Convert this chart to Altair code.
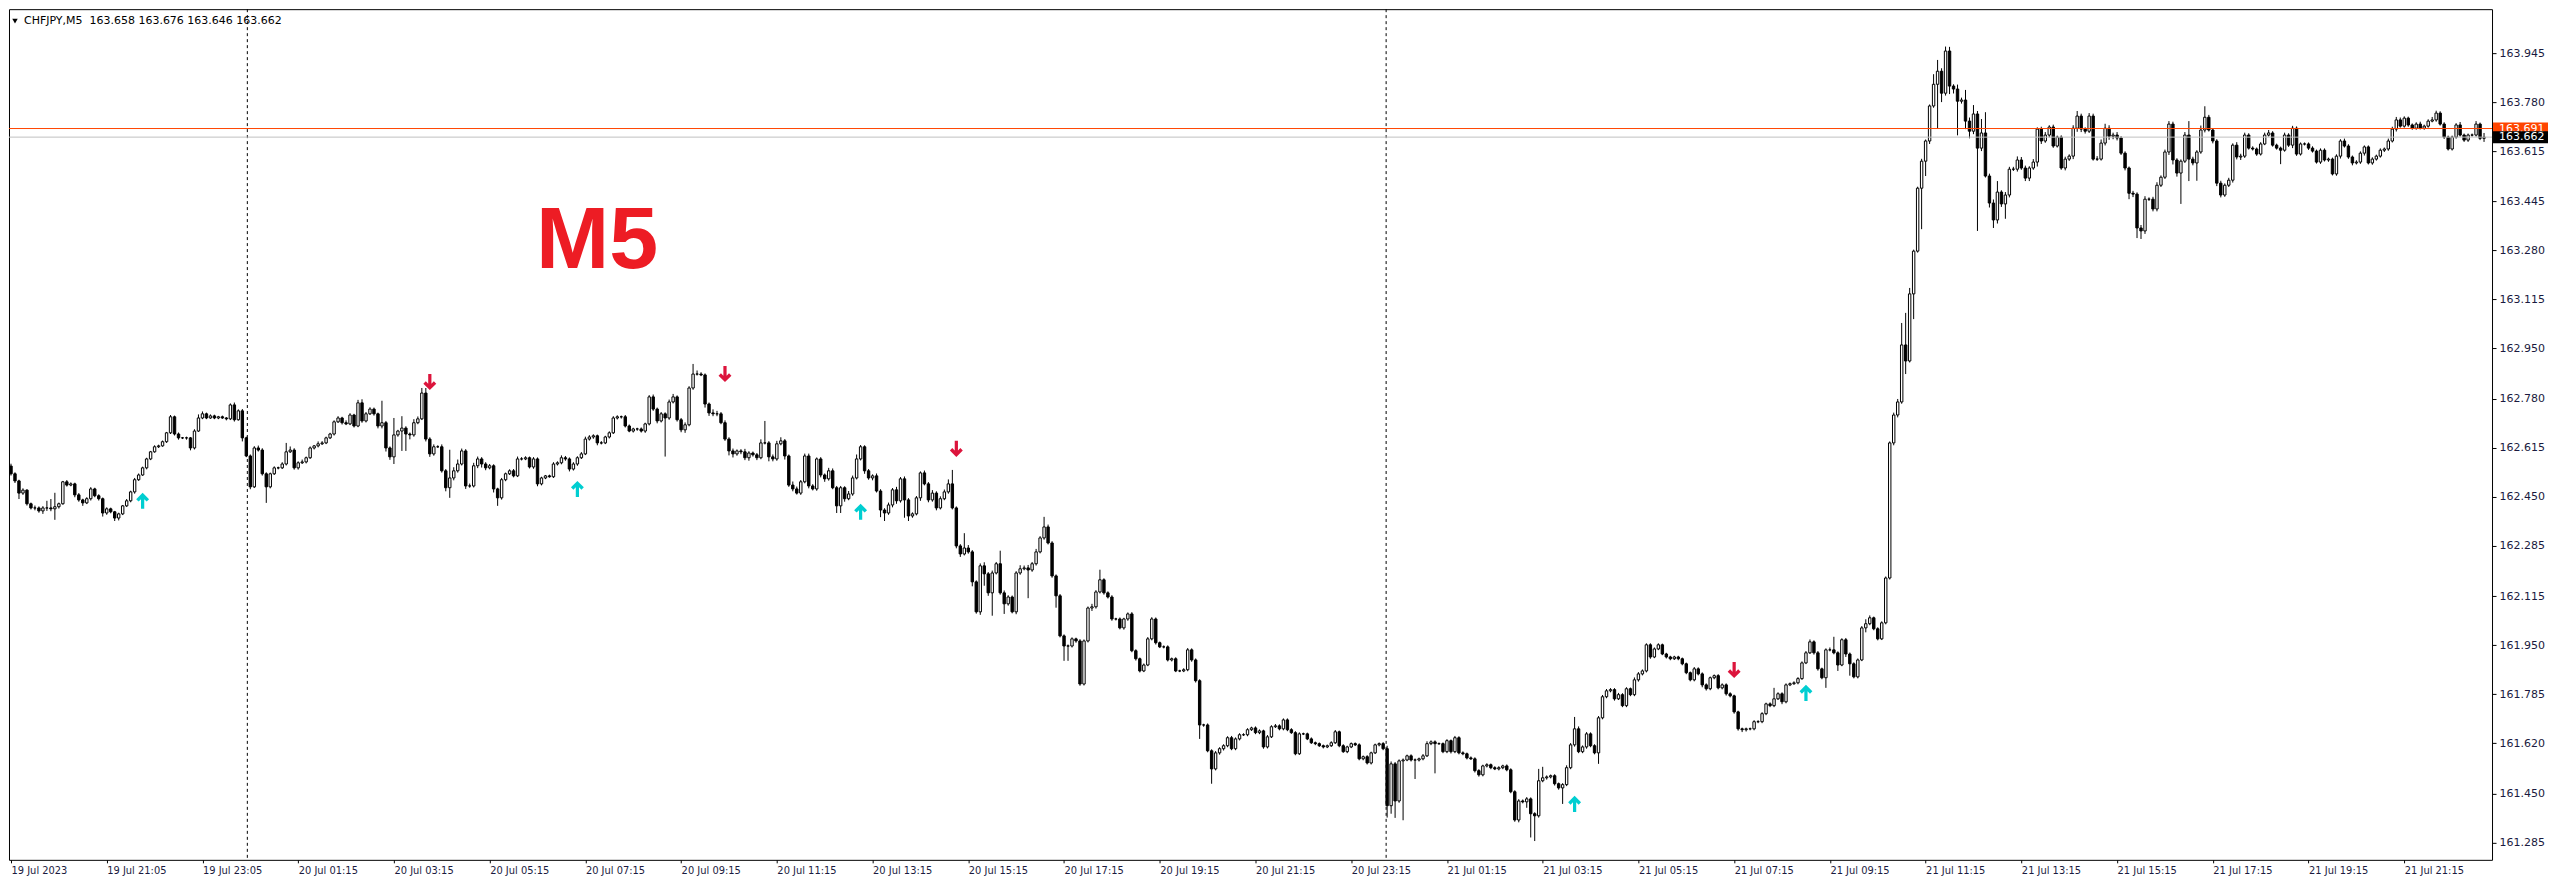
import altair as alt
import pandas as pd

symbol = "CHFJPY,M5"
first_open = 162.554

closes = [
    162.528, 162.504, 162.463, 162.473, 162.427, 162.413, 162.413, 162.403, 162.413, 162.413, 162.410, 162.417, 162.427, 162.501, 162.490, 162.494, 162.457, 162.440, 162.430, 162.444,
    162.477, 162.454, 162.444, 162.396, 162.410, 162.400, 162.379, 162.393, 162.420, 162.437, 162.467, 162.508, 162.524, 162.548, 162.578, 162.602, 162.619, 162.622, 162.636, 162.666,
    162.720, 162.662, 162.649, 162.649, 162.649, 162.615, 162.672, 162.716, 162.730, 162.716, 162.723, 162.716, 162.720, 162.716, 162.713, 162.760, 162.710, 162.740, 162.649, 162.588,
    162.484, 162.615, 162.608, 162.528, 162.484, 162.528, 162.548, 162.548, 162.561, 162.602, 162.608, 162.548, 162.565, 162.568, 162.582, 162.615, 162.622, 162.629, 162.632, 162.649,
    162.662, 162.703, 162.716, 162.700, 162.696, 162.726, 162.689, 162.767, 162.706, 162.730, 162.746, 162.730, 162.689, 162.700, 162.615, 162.585, 162.659, 162.672, 162.682, 162.662,
    162.659, 162.700, 162.713, 162.800, 162.645, 162.595, 162.619, 162.619, 162.538, 162.481, 162.514, 162.538, 162.561, 162.605, 162.487, 162.487, 162.555, 162.578, 162.561, 162.548,
    162.555, 162.477, 162.447, 162.508, 162.528, 162.538, 162.521, 162.578, 162.578, 162.582, 162.551, 162.578, 162.494, 162.514, 162.521, 162.518, 162.561, 162.565, 162.582, 162.578,
    162.544, 162.561, 162.582, 162.595, 162.645, 162.652, 162.656, 162.632, 162.632, 162.652, 162.666, 162.716, 162.720, 162.720, 162.689, 162.672, 162.679, 162.679, 162.672, 162.696,
    162.787, 162.746, 162.706, 162.730, 162.716, 162.770, 162.787, 162.710, 162.676, 162.693, 162.817, 162.864, 162.864, 162.861, 162.763, 162.733, 162.730, 162.730, 162.700, 162.645,
    162.605, 162.595, 162.605, 162.602, 162.582, 162.598, 162.592, 162.582, 162.632, 162.632, 162.585, 162.578, 162.629, 162.639, 162.588, 162.490, 162.477, 162.463, 162.501, 162.588,
    162.487, 162.477, 162.578, 162.524, 162.511, 162.538, 162.481, 162.420, 162.481, 162.444, 162.460, 162.514, 162.578, 162.619, 162.538, 162.514, 162.521, 162.470, 162.406, 162.396,
    162.423, 162.474, 162.437, 162.511, 162.440, 162.386, 162.393, 162.447, 162.531, 162.494, 162.440, 162.463, 162.413, 162.444, 162.467, 162.494, 162.413, 162.285, 162.258, 162.278,
    162.265, 162.164, 162.063, 162.218, 162.191, 162.127, 162.194, 162.225, 162.127, 162.090, 162.113, 162.063, 162.194, 162.208, 162.211, 162.204, 162.225, 162.265, 162.312, 162.349,
    162.295, 162.184, 162.117, 161.982, 161.948, 161.948, 161.972, 161.965, 161.820, 161.965, 162.076, 162.080, 162.130, 162.171, 162.127, 162.113, 162.039, 162.039, 162.009, 162.039,
    162.056, 161.932, 161.905, 161.864, 161.884, 161.972, 162.039, 161.959, 161.945, 161.945, 161.901, 161.905, 161.864, 161.864, 161.868, 161.935, 161.901, 161.831, 161.682, 161.682,
    161.595, 161.534, 161.588, 161.602, 161.612, 161.639, 161.602, 161.635, 161.649, 161.649, 161.666, 161.672, 161.656, 161.662, 161.608, 161.642, 161.676, 161.679, 161.669, 161.699,
    161.666, 161.656, 161.585, 161.652, 161.652, 161.635, 161.622, 161.619, 161.612, 161.608, 161.612, 161.622, 161.659, 161.612, 161.592, 161.608, 161.619, 161.615, 161.568, 161.575,
    161.554, 161.588, 161.615, 161.619, 161.602, 161.410, 161.551, 161.426, 161.561, 161.564, 161.578, 161.564, 161.564, 161.568, 161.578, 161.619, 161.625, 161.619, 161.619, 161.592,
    161.629, 161.592, 161.639, 161.588, 161.585, 161.571, 161.568, 161.528, 161.514, 161.544, 161.548, 161.538, 161.534, 161.538, 161.544, 161.531, 161.457, 161.362, 161.426, 161.423,
    161.433, 161.383, 161.376, 161.494, 161.504, 161.507, 161.511, 161.484, 161.470, 161.481, 161.538, 161.615, 161.669, 161.592, 161.608, 161.652, 161.612, 161.588, 161.706, 161.777,
    161.797, 161.801, 161.770, 161.784, 161.747, 161.804, 161.784, 161.834, 161.854, 161.864, 161.952, 161.911, 161.938, 161.952, 161.921, 161.911, 161.905, 161.911, 161.905, 161.888,
    161.858, 161.834, 161.871, 161.854, 161.817, 161.804, 161.841, 161.848, 161.807, 161.817, 161.787, 161.780, 161.726, 161.669, 161.666, 161.669, 161.669, 161.693, 161.693, 161.720,
    161.753, 161.747, 161.770, 161.787, 161.760, 161.817, 161.821, 161.824, 161.838, 161.891, 161.925, 161.962, 161.925, 161.871, 161.841, 161.935, 161.935, 161.925, 161.884, 161.969,
    161.921, 161.888, 161.844, 161.901, 162.009, 162.023, 162.043, 162.006, 161.972, 162.026, 162.177, 162.632, 162.726, 162.770, 162.962, 162.908, 163.134, 163.278, 163.490, 163.581,
    163.649, 163.767, 163.840, 163.884, 163.810, 163.952, 163.834, 163.824, 163.783, 163.787, 163.716, 163.682, 163.740, 163.625, 163.676, 163.531, 163.440, 163.383, 163.477, 163.437,
    163.467, 163.554, 163.554, 163.585, 163.558, 163.524, 163.558, 163.578, 163.689, 163.649, 163.669, 163.696, 163.632, 163.662, 163.558, 163.588, 163.598, 163.692, 163.733, 163.689,
    163.682, 163.733, 163.588, 163.588, 163.642, 163.692, 163.665, 163.669, 163.659, 163.608, 163.558, 163.473, 163.470, 163.356, 163.346, 163.453, 163.453, 163.420, 163.500, 163.527,
    163.612, 163.706, 163.585, 163.541, 163.581, 163.669, 163.588, 163.575, 163.612, 163.686, 163.729, 163.686, 163.649, 163.507, 163.467, 163.500, 163.517, 163.635, 163.595, 163.598,
    163.669, 163.625, 163.622, 163.605, 163.639, 163.669, 163.676, 163.635, 163.625, 163.618, 163.669, 163.635, 163.692, 163.605, 163.639, 163.639, 163.625, 163.615, 163.578, 163.618,
    163.585, 163.588, 163.538, 163.598, 163.649, 163.632, 163.595, 163.575, 163.578, 163.608, 163.629, 163.575, 163.588, 163.598, 163.618, 163.622, 163.649, 163.689, 163.720, 163.699,
    163.726, 163.703, 163.692, 163.706, 163.692, 163.699, 163.716, 163.720, 163.743, 163.706, 163.662, 163.622, 163.662, 163.703, 163.669, 163.652, 163.669, 163.669, 163.706, 163.658,
    163.662,
]

# upper / lower wick lengths beyond the body, in points (0.001)
up_wick = [
    8,5,4,6,3,4,8,5,6,24,30,47,4,3,6,5,4,6,4,5,
    6,4,5,4,5,4,3,4,3,6,4,6,5,4,4,3,5,4,4,3,
    6,4,5,3,4,3,6,12,8,4,5,4,3,4,3,5,8,5,6,4,
    5,6,8,6,5,4,5,4,6,30,12,6,5,8,4,5,3,8,6,4,
    4,5,6,4,8,6,4,10,12,6,6,5,4,74,6,5,57,4,40,6,
    5,12,8,17,17,6,8,5,8,6,95,12,15,8,6,8,10,8,6,6,
    6,5,4,6,4,5,6,8,6,5,4,6,5,4,3,4,6,5,8,6,
    5,6,5,6,8,6,5,4,6,4,5,6,5,4,6,5,4,4,5,4,
    6,8,5,6,5,8,10,5,6,8,6,34,12,6,5,5,12,10,6,8,
    6,8,5,6,10,6,5,6,12,74,6,8,10,12,6,5,12,8,6,8,
    8,6,5,6,5,10,8,6,6,5,10,8,15,6,5,6,5,8,6,6,
    8,6,10,6,8,6,5,6,5,8,6,10,6,8,8,15,47,5,6,50,
    10,6,5,8,12,6,8,6,44,8,6,5,6,12,8,10,6,10,6,34,
    8,6,5,6,5,5,5,4,6,5,5,10,6,34,5,5,6,4,5,4,
    5,6,5,4,5,6,6,5,4,5,5,4,5,4,5,6,5,5,5,4,
    5,5,6,5,5,5,6,5,5,5,5,4,5,5,4,6,5,6,5,5,
    5,5,5,5,4,4,5,4,4,4,4,5,6,4,5,4,4,4,5,4,
    5,4,4,4,5,10,8,6,5,5,4,5,5,4,6,8,5,5,4,4,
    5,4,6,5,5,4,5,5,5,4,5,4,5,5,4,5,5,5,6,5,
    6,5,5,40,37,5,4,5,4,5,8,6,40,8,5,6,5,5,6,6,
    6,5,5,6,5,5,4,8,6,5,5,5,5,5,4,4,4,4,4,4,
    4,4,6,5,5,5,4,4,5,5,5,5,4,4,4,4,4,5,5,5,
    4,5,37,5,5,5,4,5,5,5,6,8,5,6,4,5,8,44,5,5,
    6,5,5,5,6,15,8,4,5,5,5,5,8,10,74,108,20,5,5,8,
    5,5,34,38,10,15,14,6,15,8,34,12,30,10,47,70,8,12,37,6,
    10,8,8,12,10,8,6,10,6,8,10,6,8,5,6,8,6,10,17,8,
    6,10,8,10,12,15,10,8,10,6,6,5,8,6,10,10,6,8,10,6,
    8,10,8,6,6,10,47,8,6,15,37,8,5,6,8,6,8,6,10,8,
    8,6,6,5,6,8,10,6,5,5,8,6,8,6,5,5,5,6,5,6,
    6,5,5,6,6,8,6,5,6,6,5,5,6,5,6,5,8,8,10,8,
    6,5,5,6,8,5,6,10,8,6,6,5,5,6,10,5,5,5,10,5,
    14,
]
dn_wick = [
    6,7,20,6,6,5,8,6,10,10,8,37,6,3,5,4,8,6,10,4,
    6,5,6,12,6,5,10,8,4,4,5,6,4,3,5,4,3,4,3,4,
    4,5,6,4,6,8,5,3,4,4,3,4,4,3,5,4,6,3,12,4,
    8,4,5,6,54,5,4,5,4,5,4,6,6,4,5,4,5,5,4,4,
    4,5,4,6,4,4,5,4,6,5,4,6,8,8,12,10,24,6,67,57,
    15,6,5,4,8,10,6,4,6,12,34,8,6,5,10,6,5,8,12,8,
    5,12,27,6,5,4,5,4,5,4,5,6,8,5,4,3,4,5,5,6,
    8,5,6,4,4,5,6,8,5,4,5,4,5,6,5,4,5,6,5,6,
    5,6,8,5,130,6,5,6,8,10,5,6,5,4,12,10,8,8,5,6,
    15,12,6,8,8,10,6,8,5,5,15,8,6,5,12,6,8,5,6,5,
    8,5,6,8,10,6,5,24,24,10,5,6,5,5,10,6,8,5,24,27,
    6,8,10,6,60,17,6,5,10,5,8,6,8,5,5,6,5,8,10,5,
    6,15,6,10,40,10,77,5,6,34,6,5,8,6,5,95,6,6,5,6,
    5,6,40,5,50,50,5,6,6,5,5,10,6,5,6,5,6,5,5,6,
    6,5,6,5,4,4,5,6,4,5,5,5,4,4,4,5,6,6,47,6,
    5,50,5,6,6,5,5,5,5,4,5,4,5,5,6,5,4,4,5,5,
    5,4,5,4,4,4,4,5,4,5,4,4,4,5,4,5,4,4,5,5,
    5,5,4,5,5,40,27,57,6,200,4,5,64,5,5,4,5,100,4,5,
    5,6,5,5,5,5,4,6,6,5,5,5,4,5,5,5,5,6,8,5,
    20,80,85,6,5,6,5,6,6,54,5,5,6,5,5,6,5,5,37,5,
    5,5,6,4,5,5,5,5,6,5,5,6,4,4,4,5,5,4,5,5,
    5,5,5,5,8,6,5,5,5,5,6,5,6,6,8,6,5,5,5,5,
    5,5,5,4,8,5,4,4,5,4,4,4,6,6,5,34,5,5,20,4,
    10,40,5,5,4,15,5,5,5,4,5,5,8,8,6,44,5,85,5,138,
    50,10,6,150,30,8,27,15,115,8,27,24,10,279,10,5,15,27,12,10,
    50,8,6,8,6,10,10,6,15,10,6,8,6,5,6,8,6,10,12,10,
    8,6,5,6,5,8,12,10,8,6,8,20,10,34,27,10,6,8,8,6,
    6,10,15,12,104,6,74,8,60,6,8,5,8,10,8,6,6,8,8,10,
    6,5,5,6,5,4,5,5,5,47,5,6,10,6,5,5,6,5,5,6,
    5,6,5,6,8,5,6,8,5,6,8,5,6,5,5,6,6,5,8,5,
    5,6,5,5,4,5,5,4,6,5,6,5,5,5,5,6,6,5,5,6,
    12,
]

time_labels = [
    "19 Jul 2023", "19 Jul 21:05", "19 Jul 23:05", "20 Jul 01:15", "20 Jul 03:15",
    "20 Jul 05:15", "20 Jul 07:15", "20 Jul 09:15", "20 Jul 11:15", "20 Jul 13:15",
    "20 Jul 15:15", "20 Jul 17:15", "20 Jul 19:15", "20 Jul 21:15", "20 Jul 23:15",
    "21 Jul 01:15", "21 Jul 03:15", "21 Jul 05:15", "21 Jul 07:15", "21 Jul 09:15",
    "21 Jul 11:15", "21 Jul 13:15", "21 Jul 15:15", "21 Jul 17:15", "21 Jul 19:15",
    "21 Jul 21:15",
]
label_step = 24
price_ticks = [163.945, 163.780, 163.615, 163.445, 163.280, 163.115, 162.950, 162.780,
               162.615, 162.450, 162.285, 162.115, 161.950, 161.785, 161.620, 161.450, 161.285]
separators = [59.25, 344.75]
up_arrow_i = [33, 142, 213, 392, 450]
up_arrow_p = [162.437, 162.477, 162.400, 161.416, 161.790]
dn_arrow_i = [105, 179, 237, 432]
dn_arrow_p = [162.837, 162.864, 162.612, 161.867]
bid = 163.662
ask = 163.691
m5_pos = (131.6, 163.221)

W, H = 2484, 851
X_DOMAIN = [-0.5, 622]
Y_DOMAIN = [161.2277, 164.093]

n = min(len(closes), len(up_wick), len(dn_wick))
opens = [first_open] + closes[: n - 1]
rows = []
for i in range(n):
    o, c = opens[i], closes[i]
    rows.append({
        "i": i, "o": o, "c": c,
        "h": max(o, c) + up_wick[i] / 1000.0,
        "l": min(o, c) - dn_wick[i] / 1000.0,
        "x0": i - 0.3, "x1": i + 0.3,
        "fc": "white" if c >= o else "black",
    })
df = pd.DataFrame(rows)
last = rows[-1]
header = f"{symbol}\u00a0\u00a0{last['o']:.3f} {last['h']:.3f} {last['l']:.3f} {last['c']:.3f}"

xs = alt.Scale(domain=X_DOMAIN, nice=False, zero=False)
ys = alt.Scale(domain=Y_DOMAIN, nice=False, zero=False)

label_expr = "[" + ",".join(f"'{s}'" for s in time_labels) + f"][round(datum.value/{label_step})]"
axis_color = "#1a1a40"
x_axis = alt.Axis(values=[k * label_step for k in range(len(time_labels))], labelExpr=label_expr,
                  labelAlign="left", labelFlush=False, labelOverlap=False, title=None,
                  tickSize=3, tickColor="black", labelPadding=2, domain=False, grid=False,
                  labelFont="DejaVu Sans Condensed, DejaVu Sans", labelFontSize=11,
                  labelColor=axis_color)
y_axis = alt.Axis(orient="right", values=price_ticks, format=".3f", title=None, tickSize=4,
                  tickColor="black", labelPadding=3, domain=False, grid=False,
                  labelFont="DejaVu Sans", labelFontSize=11, labelColor=axis_color,
                  labelOverlap=False, labelFlush=False)


def X(field):
    return alt.X(field, scale=xs, axis=x_axis)


def Y(field):
    return alt.Y(field, scale=ys, axis=y_axis)


seps = alt.Chart(pd.DataFrame({"i": separators})).mark_rule(
    color="black", strokeWidth=1, strokeDash=[3, 3]
).encode(x=X("i:Q"))

wicks = alt.Chart(df).mark_rule(color="black", strokeWidth=1).encode(
    x=X("i:Q"), y=Y("l:Q"), y2="h:Q",
)
bodies = alt.Chart(df).mark_rect(stroke="black", strokeWidth=1).encode(
    x=X("x0:Q"), x2="x1:Q", y=Y("o:Q"), y2="c:Q",
    fill=alt.Fill("fc:N", scale=None),
)

plines = alt.Chart(pd.DataFrame({"p": [bid, ask], "col": ["#C0C0C0", "#FF4500"]})).mark_rule(
    strokeWidth=1
).encode(y=Y("p:Q"), color=alt.Color("col:N", scale=None))

up_path = "M0,-1L0.8,-0.2L0.5,0.1L0.2,-0.2L0.2,1L-0.2,1L-0.2,-0.2L-0.5,0.1L-0.8,-0.2Z"
dn_path = "M0,1L0.8,0.2L0.5,-0.1L0.2,0.2L0.2,-1L-0.2,-1L-0.2,0.2L-0.5,-0.1L-0.8,0.2Z"
ups = alt.Chart(pd.DataFrame({"i": up_arrow_i, "p": up_arrow_p})).mark_point(
    shape=up_path, filled=True, color="#00CED1", size=260, opacity=1
).encode(x=X("i:Q"), y=Y("p:Q"))
dns = alt.Chart(pd.DataFrame({"i": dn_arrow_i, "p": dn_arrow_p})).mark_point(
    shape=dn_path, filled=True, color="#DC143C", size=260, opacity=1
).encode(x=X("i:Q"), y=Y("p:Q"))

m5 = alt.Chart(pd.DataFrame({"i": [m5_pos[0]], "p": [m5_pos[1]], "t": ["M5"]})).mark_text(
    font="Liberation Sans", fontWeight="bold", fontSize=88, color="#ED1C24",
    align="left", baseline="alphabetic"
).encode(x=X("i:Q"), y=Y("p:Q"), text="t:N")

tri = alt.Chart(pd.DataFrame({"t": ["v"]})).mark_point(
    shape="triangle-down", filled=True, color="black", size=30, opacity=1
).encode(x=alt.value(6), y=alt.value(12))
head = alt.Chart(pd.DataFrame({"t": [header]})).mark_text(
    align="left", baseline="middle", font="DejaVu Sans", fontSize=11, color="black"
).encode(x=alt.value(15), y=alt.value(12), text="t:N")


def price_box(p, label, color):
    d = pd.DataFrame({"p": [p], "t": [label]})
    box = alt.Chart(d).mark_rect(color=color, yOffset=-6, y2Offset=6).encode(
        y=Y("p:Q"), y2="p:Q", x=alt.value(W + 1), x2=alt.value(W + 56))
    txt = alt.Chart(d).mark_text(align="left", baseline="middle", color="white",
                                 font="DejaVu Sans", fontSize=11).encode(
        y=Y("p:Q"), x=alt.value(W + 7), text="t:N")
    return box + txt


ask_box = price_box(ask, f"{ask:.3f}", "#FF4500")
bid_box = price_box(bid, f"{bid:.3f}", "black")

chart = alt.layer(
    seps, wicks, bodies, plines, ups, dns, m5, tri, head, ask_box, bid_box
).properties(
    width=W, height=H, padding=0, background="white"
).configure_view(stroke="black", strokeWidth=1)

chart.save("out.html", embed_options={"renderer": "svg", "actions": False})
